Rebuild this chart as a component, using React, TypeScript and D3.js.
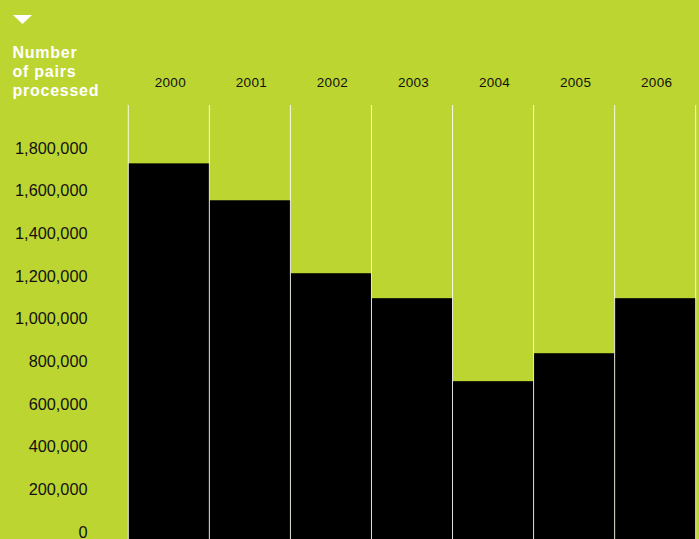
import React from "react";
import * as d3 from "d3";

const years = ["2000", "2001", "2002", "2003", "2004", "2005", "2006"];
const pairs = [1728000, 1555000, 1213000, 1096000, 707000, 838000, 1096000];
const yTicks = [0, 200000, 400000, 600000, 800000, 1000000, 1200000, 1400000, 1600000, 1800000];
const titleLines = ["Number", "of pairs", "processed"];

const W = 699;
const H = 539;
const GREEN = "#BDD531";
const FONT = "'Liberation Sans', Arial, Helvetica, sans-serif";

export default function App() {
  const x = d3.scaleBand<string>().domain(years).range([128.3, 695.7]).padding(0);
  const y = d3.scaleLinear().domain([0, 1800000]).range([532, 148]);
  const fmt = d3.format(",");
  const lineTop = 105;

  return (
    <svg
      width={W}
      height={H}
      style={{ position: "absolute", left: 0, top: 0, display: "block" }}
      fontFamily={FONT}
    >
      <rect x={0} y={0} width={W} height={H} fill={GREEN} />
      {/* triangle marker */}
      <path d="M13,15 L32,15 L22.5,24 Z" fill="#fff" />
      {/* title */}
      {titleLines.map((t, i) => (
        <text
          key={t}
          x={12.5}
          y={58 + i * 19}
          fill="#fff"
          fontSize={16}
          fontWeight="bold"
          letterSpacing={0.75}
        >
          {t}
        </text>
      ))}
      {/* bars */}
      {years.map((yr, i) => (
        <rect
          key={yr}
          x={x(yr)!}
          y={y(pairs[i])}
          width={x.bandwidth()}
          height={H - y(pairs[i])}
          fill="#000"
        />
      ))}
      {/* separators */}
      {[...years.map((yr) => x(yr)!), x.range()[1]].map((px, i) => (
        <line
          key={i}
          x1={px}
          x2={px}
          y1={lineTop}
          y2={H}
          stroke="#fff"
          strokeWidth={1}
          strokeOpacity={0.85}
        />
      ))}
      {/* year labels */}
      {years.map((yr) => (
        <text
          key={yr}
          x={x(yr)! + x.bandwidth() / 2 + 1.5}
          y={86.5}
          fontSize={13.5}
          textAnchor="middle"
          fill="#111"
          letterSpacing={0.3}
        >
          {yr}
        </text>
      ))}
      {/* y tick labels */}
      {yTicks.map((t) => (
        <text
          key={t}
          x={87.5}
          y={y(t) + 5.8}
          fontSize={16.3}
          textAnchor="end"
          fill="#111"
        >
          {fmt(t)}
        </text>
      ))}
    </svg>
  );
}
